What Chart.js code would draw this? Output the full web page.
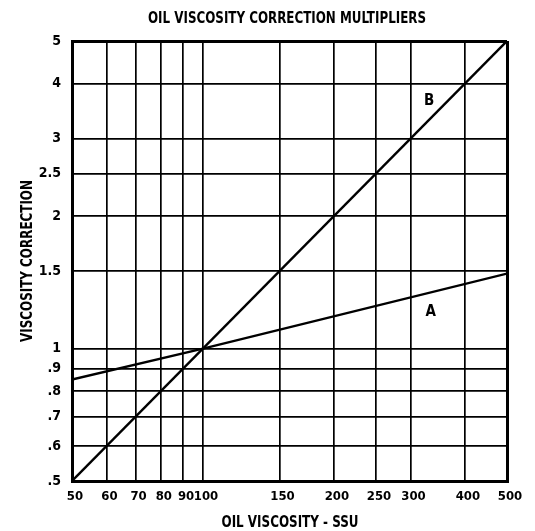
<!DOCTYPE html>
<html>
<head>
<meta charset="utf-8">
<script src="https://cdn.jsdelivr.net/npm/chart.js@4"></script>
<style>
  html, body { margin: 0; padding: 0; background: #fff; }
</style>
</head>
<body>
<canvas id="chart" width="535" height="531"></canvas>
<script>
/* ── data ────────────────────────────────────────────────── */
const X_TICKS = [50, 60, 70, 80, 90, 100, 150, 200, 250, 300, 400, 500];
const X_TICK_LABELS = ['50', '60', '70', '80', '90', '100', '150', '200', '250', '300', '400', '500'];
const Y_TICKS = [0.5, 0.6, 0.7, 0.8, 0.9, 1, 1.5, 2, 2.5, 3, 4, 5];
const Y_TICK_LABELS = ['.5', '.6', '.7', '.8', '.9', '1', '1.5', '2', '2.5', '3', '4', '5'];

const LINE_A = [{ x: 50, y: 0.85 }, { x: 100, y: 1 }, { x: 500, y: 1.48 }];
const LINE_B = [{ x: 50, y: 0.5 }, { x: 500, y: 5 }];
const LINE_NAMES = ['A', 'B'];
const LINE_NAME_AT = [{ x: 334, y: 1.21 }, { x: 331, y: 3.65 }];

const TITLE = 'OIL VISCOSITY CORRECTION MULTIPLIERS';
const X_TITLE = 'OIL VISCOSITY - SSU';
const Y_TITLE = 'VISCOSITY CORRECTION';

const FONT = "'DejaVu Sans Condensed', 'DejaVu Sans', sans-serif";

/* ── frame: thicker lines at the outer edges ─────────────── */
const gridWidth = n => ctx => (ctx.index === 0 || ctx.index === n - 1) ? 3 : 1.7;

const textPlugin = {
  id: 'chartTexts',
  afterDatasetsDraw(chart) {
    const { ctx, scales: { x, y } } = chart;
    ctx.save();
    ctx.fillStyle = '#000';
    ctx.textAlign = 'center';
    ctx.textBaseline = 'middle';

    // line names A / B
    ctx.font = `bold 15px ${FONT}`;
    LINE_NAMES.forEach((name, i) => {
      const p = LINE_NAME_AT[i];
      ctx.fillText(name, x.getPixelForValue(p.x), y.getPixelForValue(p.y));
    });

    // titles, squeezed like the condensed original
    ctx.font = `bold 16px ${FONT}`;
    ctx.fillText(TITLE, 287, 19, 278);
    ctx.fillText(X_TITLE, 290, 523, 137);

    ctx.translate(28, 261);
    ctx.rotate(-Math.PI / 2);
    ctx.fillText(Y_TITLE, 0, 0, 162);
    ctx.restore();
  },
};

new Chart(document.getElementById('chart'), {
  type: 'scatter',
  data: {
    datasets: [
      {
        label: 'A',
        data: LINE_A,
        showLine: true,
        borderColor: '#000',
        borderWidth: 2.4,
        pointRadius: 0,
        fill: false,
      },
      {
        label: 'B',
        data: LINE_B,
        showLine: true,
        borderColor: '#000',
        borderWidth: 2.4,
        pointRadius: 0,
        fill: false,
      },
    ],
  },
  options: {
    responsive: false,
    devicePixelRatio: 1,
    animation: false,
    layout: { padding: { left: 0, right: 28, top: 41, bottom: 0 } },
    plugins: {
      legend: { display: false },
      tooltip: { enabled: false },
      title: { display: false },
    },
    scales: {
      x: {
        type: 'logarithmic',
        min: 50,
        max: 500,
        afterBuildTicks: scale => { scale.ticks = X_TICKS.map(v => ({ value: v })); },
        afterFit: scale => { scale.height = 50; },
        ticks: {
          autoSkip: false,
          maxRotation: 0,
          minRotation: 0,
          padding: 8,
          labelOffset: 3,
          color: '#000',
          font: { family: FONT, size: 13, weight: 'bold' },
          callback: (v, i) => X_TICK_LABELS[i],
        },
        grid: { color: '#000', lineWidth: gridWidth(X_TICKS.length), drawTicks: false },
        border: { color: '#000', width: 3 },
      },
      y: {
        type: 'logarithmic',
        min: 0.5,
        max: 5,
        afterBuildTicks: scale => { scale.ticks = Y_TICKS.map(v => ({ value: v })); },
        afterFit: scale => { scale.width = 72; },
        ticks: {
          autoSkip: false,
          padding: 11,
          color: '#000',
          font: { family: FONT, size: 14, weight: 'bold' },
          callback: (v, i) => Y_TICK_LABELS[i],
        },
        grid: { color: '#000', lineWidth: gridWidth(Y_TICKS.length), drawTicks: false },
        border: { color: '#000', width: 3 },
      },
    },
  },
  plugins: [textPlugin],
});
</script>
</body>
</html>
